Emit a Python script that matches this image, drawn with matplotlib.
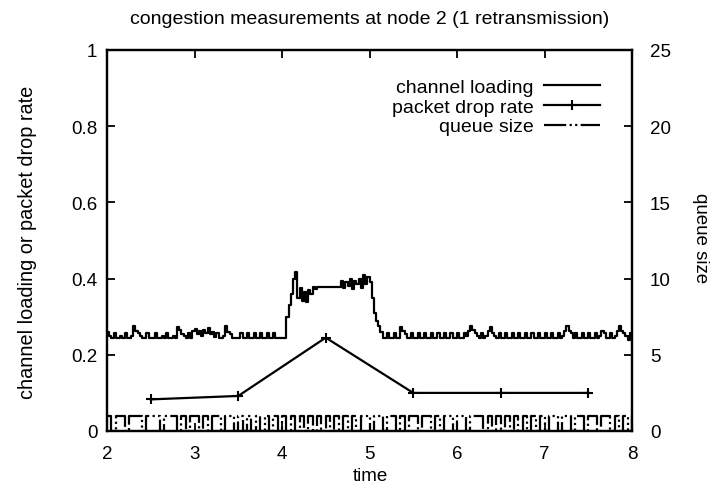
import numpy as np
import matplotlib
matplotlib.use("Agg")
import matplotlib.pyplot as plt

plt.rcParams['font.family'] = ['Liberation Sans', 'DejaVu Sans']

# channel loading, sampled every 0.025 from 2.0 to 8.0
channel_loading = [
    0.26, 0.25, 0.245, 0.258, 0.245, 0.245, 0.25, 0.245, 0.258, 0.245,
    0.245, 0.25, 0.275, 0.262, 0.258, 0.25, 0.245, 0.245, 0.258, 0.245,
    0.245, 0.245, 0.258, 0.245, 0.245, 0.25, 0.245, 0.258, 0.245, 0.245,
    0.25, 0.245, 0.272, 0.265, 0.255, 0.25, 0.245, 0.258, 0.245, 0.262,
    0.268, 0.255, 0.262, 0.25, 0.265, 0.258, 0.27, 0.255, 0.26, 0.248,
    0.258, 0.245, 0.245, 0.25, 0.275, 0.26, 0.255, 0.245, 0.245, 0.245,
    0.245, 0.258, 0.245, 0.245, 0.258, 0.245, 0.245, 0.258, 0.245, 0.245,
    0.258, 0.245, 0.245, 0.258, 0.245, 0.245, 0.258, 0.245, 0.245, 0.245,
    0.245, 0.245, 0.30, 0.33, 0.36, 0.40, 0.417, 0.35, 0.375, 0.34,
    0.365, 0.338, 0.37, 0.36, 0.378, 0.372, 0.378, 0.378, 0.378, 0.378,
    0.378, 0.378, 0.378, 0.378, 0.378, 0.378, 0.378, 0.395, 0.375, 0.39,
    0.38, 0.398, 0.372, 0.395, 0.385, 0.40, 0.375, 0.41, 0.385, 0.405,
    0.39, 0.35, 0.31, 0.29, 0.275, 0.26, 0.245, 0.245, 0.258, 0.245,
    0.245, 0.258, 0.245, 0.245, 0.272, 0.262, 0.255, 0.245, 0.245, 0.258,
    0.245, 0.245, 0.258, 0.245, 0.245, 0.258, 0.245, 0.245, 0.258, 0.245,
    0.245, 0.258, 0.245, 0.245, 0.258, 0.245, 0.245, 0.258, 0.245, 0.245,
    0.258, 0.245, 0.245, 0.258, 0.25, 0.262, 0.275, 0.265, 0.258, 0.25,
    0.245, 0.258, 0.245, 0.25, 0.262, 0.272, 0.258, 0.25, 0.245, 0.258,
    0.245, 0.245, 0.258, 0.245, 0.245, 0.258, 0.245, 0.245, 0.258, 0.245,
    0.245, 0.258, 0.245, 0.245, 0.258, 0.245, 0.245, 0.258, 0.245, 0.245,
    0.258, 0.245, 0.245, 0.258, 0.245, 0.245, 0.258, 0.245, 0.25, 0.262,
    0.275, 0.262, 0.258, 0.245, 0.258, 0.245, 0.245, 0.258, 0.245, 0.245,
    0.258, 0.245, 0.245, 0.258, 0.245, 0.25, 0.262, 0.258, 0.245, 0.245,
    0.258, 0.245, 0.25, 0.262, 0.275, 0.262, 0.258, 0.25, 0.24, 0.258,
    0.245,
]
channel_time = np.linspace(2.0, 8.0, len(channel_loading))

# packet drop rate
drop_time = [2.5, 3.5, 4.5, 5.5, 6.5, 7.5]
drop_rate = [0.083, 0.092, 0.245, 0.1, 0.1, 0.1]

# queue size, sampled every 0.05 from 2.0 to 8.0
queue_size = [
    1, 0, 1, 1, 0, 1, 1, 1, 0, 1,
    1, 1, 0, 1, 1, 1, 0, 1, 0, 1,
    1, 0, 1, 0, 1, 1, 0, 1, 1, 0,
    1, 0, 1, 0, 1, 0, 1, 0, 1, 0,
    1, 0, 1, 0, 1, 0, 1, 0, 1, 0,
    1, 0, 1, 0, 1, 0, 1, 0, 1, 1,
    0, 1, 1, 0, 1, 1, 0, 1, 0, 1,
    1, 0, 1, 1, 0, 1, 0, 1, 1, 0,
    1, 1, 0, 1, 1, 1, 0, 1, 0, 1,
    0, 1, 0, 1, 0, 1, 0, 1, 0, 1,
    0, 1, 1, 0, 1, 1, 0, 1, 1, 0,
    1, 1, 0, 1, 1, 0, 1, 0, 1, 0,
    1,
]
queue_time = np.linspace(2.0, 8.0, len(queue_size))

W, H = 713, 489
fig = plt.figure(figsize=(W / 100, H / 100), dpi=100)
# axes box in pixels: x 107..632, y 51..432
ax = fig.add_axes([107 / W, 1 - 432 / H, 525 / W, 381 / H])
ax2 = ax.twinx()

l1, = ax.plot(channel_time, channel_loading, color='black', lw=1.6,
              drawstyle='steps-post', label='channel loading')
l2, = ax.plot(drop_time, drop_rate, color='black', lw=1.6, marker='+',
              ms=7, mew=1.5, label='packet drop rate')
l3, = ax2.plot(queue_time, queue_size, color='black', lw=1.6,
               drawstyle='steps-post', dashes=(10, 1.5, 1, 1.5, 1, 1.5),
               label='queue size')

ax.set_xlim(2, 8)
ax.set_ylim(0, 1)
ax2.set_ylim(0, 25)
ax.set_yticks([0, 0.2, 0.4, 0.6, 0.8, 1])
ax.set_yticklabels(['0', '0.2', '0.4', '0.6', '0.8', '1'])
ax2.set_yticks([0, 5, 10, 15, 20, 25])

ax.tick_params(axis='y', direction='in', length=6, width=1.3,
               labelsize=13.5, right=False, pad=7)
ax.tick_params(axis='x', direction='in', length=6, width=1.3,
               labelsize=13.5, top=True, pad=10)
ax2.tick_params(axis='y', direction='in', length=6, width=1.3,
                labelsize=13.5, pad=13)
for a in (ax, ax2):
    for s in a.spines.values():
        s.set_linewidth(1.6)

fig.text(370 / W, 1 - 20 / H,
         'congestion measurements at node 2 (1 retransmission)',
         fontsize=14, ha='center', va='center')
fig.text(370 / W, 1 - 477 / H, 'time', fontsize=13.5,
         ha='center', va='center')
fig.text(28 / W, 1 - 242 / H, 'channel loading or packet drop rate',
         fontsize=14.3, rotation=90, ha='center', va='center')
fig.text(700 / W, 1 - 238 / H, 'queue size', fontsize=13.5,
         rotation=270, ha='center', va='center')

leg = ax.legend(handles=[l1, l2, l3], loc='upper right',
                bbox_to_anchor=(600 / W, 1 - 79 / H),
                bbox_transform=fig.transFigure, frameon=False,
                markerfirst=False, fontsize=14, handlelength=2.9,
                labelspacing=0.12, handletextpad=0.5, borderpad=0,
                borderaxespad=0)
for t in leg.get_texts():
    t.set_ha('right')

fig.savefig('out.png', dpi=100)
